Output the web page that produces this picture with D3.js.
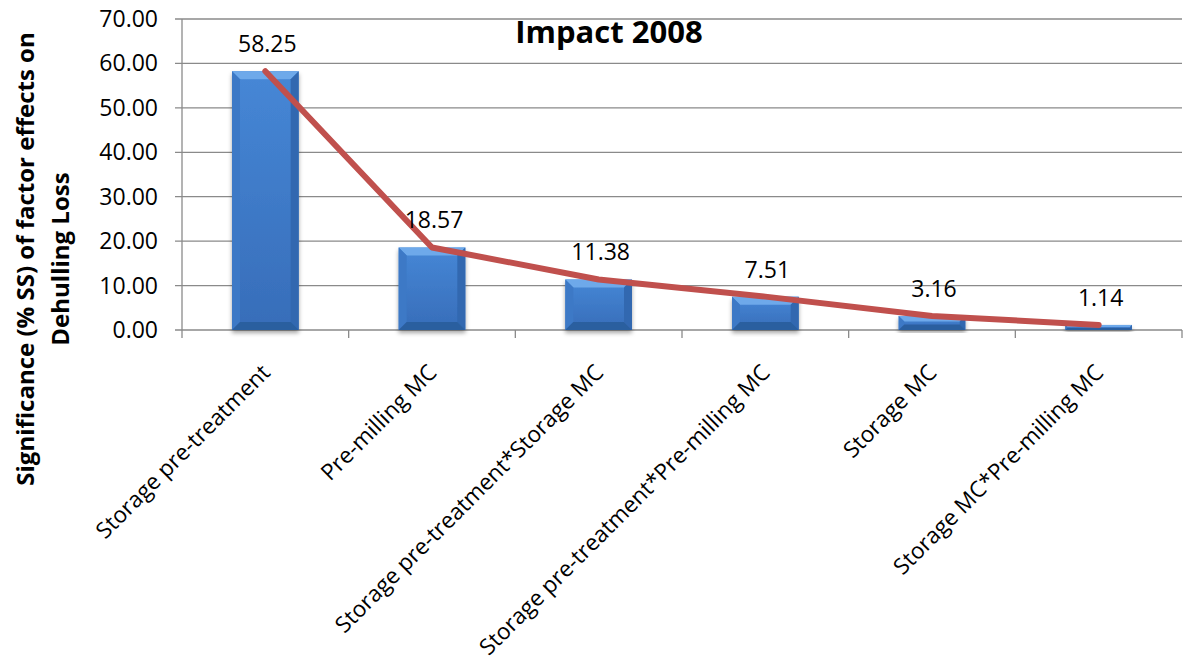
<!DOCTYPE html>
<html>
<head>
<meta charset="utf-8">
<script src="https://cdn.jsdelivr.net/npm/d3@7"></script>
<style>
  html, body { margin: 0; padding: 0; background: #fff; }
  svg { display: block; }
  text { font-family: "Open Sans", "DejaVu Sans", sans-serif; fill: #000; }
</style>
</head>
<body>
<svg id="chart" width="1194" height="667"></svg>
<script>
// Factor effects on dehulling loss, 2008
const categories = [
  "Storage pre-treatment",
  "Pre-milling MC",
  "Storage pre-treatment*Storage MC",
  "Storage pre-treatment*Pre-milling MC",
  "Storage MC",
  "Storage MC*Pre-milling MC"
];
const values = [58.25, 18.57, 11.38, 7.51, 3.16, 1.14];
const yTicks = [0, 10, 20, 30, 40, 50, 60, 70];
const chartTitle = "Impact 2008";
const yTitleLines = ["Significance (% SS) of factor effects on", "Dehulling Loss"];

const svg = d3.select("#chart");
const plot = { left: 182, right: 1182, top: 19, bottom: 330 };

const x = d3.scaleBand().domain(categories).range([plot.left, plot.right]).padding(0);
const y = d3.scaleLinear().domain([0, 70]).range([plot.bottom, plot.top]);
const barW = x.bandwidth() * 0.4;
const cx = c => x(c) + x.bandwidth() / 2;

// defs: shadow and gradients for the bevelled bars
const defs = svg.append("defs");
const shadow = defs.append("filter").attr("id", "barShadow")
  .attr("x", "-20%").attr("y", "-20%").attr("width", "140%").attr("height", "140%");
shadow.append("feDropShadow").attr("dx", 0).attr("dy", 3).attr("stdDeviation", 2.2)
  .attr("flood-color", "#000").attr("flood-opacity", 0.35);

const body = defs.append("linearGradient").attr("id", "barBody")
  .attr("x1", "0").attr("x2", "0").attr("y1", "0").attr("y2", "1");
body.append("stop").attr("offset", "0%").attr("stop-color", "#4687d6");
body.append("stop").attr("offset", "100%").attr("stop-color", "#376db9");

// gridlines with short outer ticks on the value axis
const grid = svg.append("g");
grid.selectAll("line").data(yTicks).join("line")
  .attr("x1", plot.left - 7).attr("x2", plot.right)
  .attr("y1", d => y(d)).attr("y2", d => y(d))
  .attr("stroke", "#8a8a8a").attr("stroke-width", 1.3);

// value axis line
svg.append("line")
  .attr("x1", plot.left).attr("x2", plot.left)
  .attr("y1", plot.top).attr("y2", plot.bottom + 8)
  .attr("stroke", "#8a8a8a").attr("stroke-width", 1.3);

// category boundary ticks
const bounds = categories.map(c => x(c) + x.bandwidth());
svg.append("g").selectAll("line").data(bounds).join("line")
  .attr("x1", d => d).attr("x2", d => d)
  .attr("y1", plot.bottom).attr("y2", plot.bottom + 8)
  .attr("stroke", "#8a8a8a").attr("stroke-width", 1.3);

// value axis labels
svg.append("g").selectAll("text").data(yTicks).join("text")
  .attr("x", 158).attr("y", d => y(d)).attr("dy", "0.35em")
  .attr("text-anchor", "end").attr("font-size", 23)
  .text(d => d3.format(".2f")(d));

// bars with bevelled edges
const bars = svg.append("g").selectAll("g").data(categories).join("g")
  .attr("filter", "url(#barShadow)");
bars.each(function (c, i) {
  const g = d3.select(this);
  const x0 = cx(c) - barW / 2, x1 = cx(c) + barW / 2;
  const y0 = y(values[i]), y1 = y(0);
  const h = y1 - y0;
  const b = Math.min(8, h / 2.5);
  g.append("rect").attr("x", x0).attr("y", y0).attr("width", barW).attr("height", h)
    .attr("fill", "url(#barBody)");
  const poly = (pts, fill) => g.append("polygon")
    .attr("points", pts.map(p => p.join(",")).join(" ")).attr("fill", fill);
  poly([[x0, y0], [x1, y0], [x1 - b, y0 + b], [x0 + b, y0 + b]], "#6ea9ea");
  poly([[x0, y0], [x0 + b, y0 + b], [x0 + b, y1 - b], [x0, y1]], "#3c79c6");
  poly([[x1, y0], [x1 - b, y0 + b], [x1 - b, y1 - b], [x1, y1]], "#3068b0");
  poly([[x0, y1], [x0 + b, y1 - b], [x1 - b, y1 - b], [x1, y1]], "#2c5f9f");
});

// trend line through the bar tops
const line = d3.line().x((d, i) => cx(categories[i])).y(d => y(d));
svg.append("path").datum(values)
  .attr("d", line).attr("fill", "none")
  .attr("stroke", "#C0504D").attr("stroke-width", 6)
  .attr("stroke-linejoin", "round").attr("stroke-linecap", "round");

// value labels
svg.append("g").selectAll("text").data(values).join("text")
  .attr("x", (d, i) => cx(categories[i]) + 2)
  .attr("y", d => y(d) - 19)
  .attr("text-anchor", "middle").attr("font-size", 23)
  .text(d => d3.format(".2f")(d));

// rotated category labels
svg.append("g").selectAll("text").data(categories).join("text")
  .attr("transform", c => `translate(${cx(c) + 6},${374}) rotate(-45)`)
  .attr("text-anchor", "end").attr("font-size", 22.5)
  .text(c => c);

// chart title
svg.append("text")
  .attr("x", 609).attr("y", 43)
  .attr("text-anchor", "middle").attr("font-size", 31).attr("font-weight", 700)
  .text(chartTitle);

// value axis title, two lines
svg.append("g").selectAll("text").data(yTitleLines).join("text")
  .attr("transform", (d, i) => `translate(${i === 0 ? 34 : 69},259) rotate(-90)`)
  .attr("text-anchor", "middle").attr("font-size", 24).attr("font-weight", 700)
  .text(d => d);
</script>
</body>
</html>
